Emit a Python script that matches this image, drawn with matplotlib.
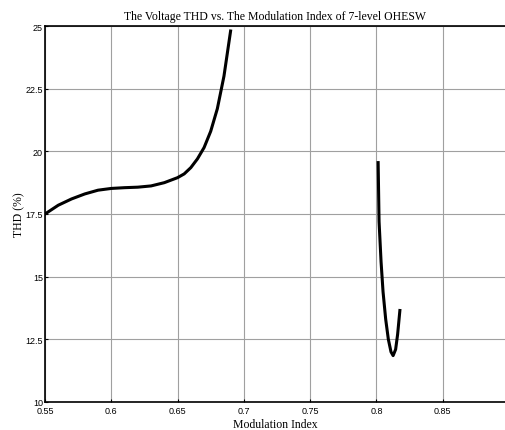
import matplotlib
matplotlib.use("Agg")
import matplotlib.pyplot as plt

# Branch 1
m1 = [0.55, 0.56, 0.57, 0.58, 0.59, 0.60, 0.61, 0.62, 0.63, 0.64, 0.65,
      0.655, 0.66, 0.665, 0.67, 0.675, 0.68, 0.685, 0.69]
thd1 = [17.5, 17.85, 18.1, 18.3, 18.45, 18.52, 18.55, 18.57, 18.62, 18.75, 18.95,
        19.1, 19.35, 19.7, 20.15, 20.8, 21.7, 23.0, 24.8]
# Branch 2
m2 = [0.8013, 0.802, 0.8035, 0.805, 0.807, 0.809, 0.811, 0.8126, 0.8145, 0.816, 0.8177]
thd2 = [19.55, 17.2, 15.6, 14.4, 13.3, 12.5, 12.0, 11.85, 12.1, 12.7, 13.65]

xticks = [0.55, 0.6, 0.65, 0.7, 0.75, 0.8, 0.85]
xticklabels = ["0.55", "0.6", "0.65", "0.7", "0.75", "0.8", "0.85"]
yticks = [10, 12.5, 15, 17.5, 20, 22.5, 25]
yticklabels = ["10", "12.5", "15", "17.5", "20", "22.5", "25"]

fig = plt.figure(figsize=(5.05, 4.31), dpi=100)
ax = fig.add_axes([45/505, 1-403/431, 1-45/505, (403-27)/431])

ax.plot(m1, thd1, color="black", lw=2.2)
ax.plot(m2, thd2, color="black", lw=2.2)

ax.set_xlim(0.55, 0.897)
ax.set_ylim(10, 25)
ax.set_xticks(xticks)
ax.set_xticklabels(xticklabels)
ax.set_yticks(yticks)
ax.set_yticklabels(yticklabels)
ax.tick_params(direction="in", length=2, labelsize=6.5)
ax.tick_params(axis="x", pad=3)
ax.tick_params(axis="y", pad=1.5)
for lab in ax.get_xticklabels() + ax.get_yticklabels():
    lab.set_family("Liberation Sans")
ax.grid(True, color="#a0a0a0", lw=0.8)
for s in ax.spines.values():
    s.set_linewidth(1.2)
ax.spines["right"].set_visible(False)

serif = "Liberation Serif"
ax.set_title("The Voltage THD vs. The Modulation Index of 7-level OHESW",
             family=serif, fontsize=8.5, pad=5)
ax.set_xlabel("Modulation Index", family=serif, fontsize=8.5, labelpad=2)
ax.set_ylabel("THD (%)", family=serif, fontsize=8.5, labelpad=0)

fig.savefig("out.png", dpi=100)
